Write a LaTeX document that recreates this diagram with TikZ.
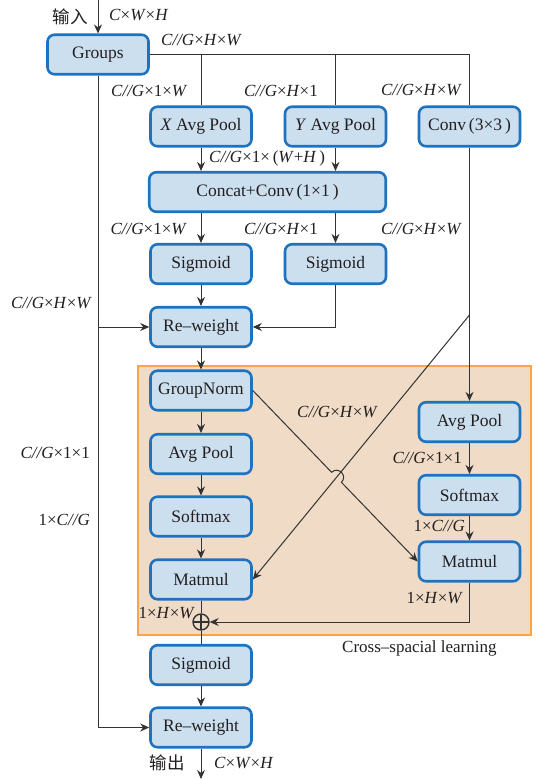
\documentclass[tikz,border=0pt]{standalone}
\usepackage{fontspec}
\setmainfont{Liberation Serif}
\newfontfamily\cjkfont{Noto Sans CJK SC}
\usetikzlibrary{arrows.meta,calc}
\definecolor{nfill}{HTML}{CCDFEF}
\definecolor{nborder}{HTML}{1F72BD}
\definecolor{ofill}{HTML}{EFDBC6}
\definecolor{oborder}{HTML}{F6A54C}
\definecolor{lc}{HTML}{333333}
\definecolor{tc}{HTML}{231F20}
\newcommand\myit[1]{\textit{#1}}
\begin{document}
\begin{tikzpicture}[x=1pt, y=-1pt, font=\fontsize{17}{20}\selectfont, text=tc,
  box/.style={draw=nborder, fill=nfill, line width=2.6pt, rounded corners=7pt,
    minimum width=101pt, minimum height=39.5pt, inner sep=0pt, font=\fontsize{17.5}{20}\selectfont},
  conn/.style={draw=lc, line width=1pt},
  arr/.style={conn, -{Stealth[length=9pt,width=8pt]}},
  lab/.style={inner sep=0pt},
  cjk/.style={inner sep=0pt, font=\cjkfont\fontsize{17.5}{20}\selectfont}]
\useasboundingbox (0,0) rectangle (543,779);
\fill[white] (0,0) rectangle (543,779);
% cross-spacial learning region
\draw[fill=ofill, draw=oborder, line width=1.2pt] (138,366) rectangle (531,635);

% nodes
\node[box] (groups) at (98,54.5) {Groups};
\node[box] (xavg) at (201,126.5) {\myit{X} Avg Pool};
\node[box] (yavg) at (335.5,126.5) {\myit{Y} Avg Pool};
\node[box] (conv) at (469.5,126.5) {Conv\,(3×3\,)};
\node[box, minimum width=236.5pt] (concat) at (267.5,192) {Concat+Conv\,(1×1\,)};
\node[box] (sigL) at (201,264) {Sigmoid};
\node[box] (sigR) at (335.5,264) {Sigmoid};
\node[box] (rw1) at (201,327) {Re–weight};
\node[box] (gn) at (201,390.5) {GroupNorm};
\node[box] (apL) at (201,454) {Avg Pool};
\node[box] (smL) at (201,516.5) {Softmax};
\node[box] (mmL) at (201,579.5) {Matmul};
\node[box] (apR) at (469.5,422) {Avg Pool};
\node[box] (smR) at (469.5,495) {Softmax};
\node[box] (mmR) at (469.5,561.5) {Matmul};
\node[circle, draw=lc, line width=1.4pt, minimum size=16pt, inner sep=0pt,
  path picture={\draw[lc, line width=1.4pt] (path picture bounding box.north) -- (path picture bounding box.south)
    (path picture bounding box.west) -- (path picture bounding box.east);}] (oplus) at (201,622) {};
\node[box] (sigB) at (201,665) {Sigmoid};
\node[box] (rw2) at (201,727.5) {Re–weight};

% connectors
\coordinate (in) at (98,0);
\coordinate (out) at (201,779);
\draw[arr] (in) -- (groups.north);
\draw[conn] (groups.east) -| (conv.north);
\draw[conn] (groups.east -| xavg.north) -- (xavg.north);
\draw[conn] (groups.east -| yavg.north) -- (yavg.north);
\draw[arr] (xavg.south) -- (xavg.south |- concat.north);
\draw[arr] (yavg.south) -- (yavg.south |- concat.north);
\draw[arr] (concat.south -| sigL.north) -- (sigL.north);
\draw[arr] (concat.south -| sigR.north) -- (sigR.north);
\draw[arr] (sigL) -- (rw1);
\draw[arr] (sigR.south) |- (rw1.east);
\draw[arr] (groups.south) |- (rw2.west);
\draw[arr] (groups.south |- rw1.west) -- (rw1.west);
\draw[arr] (rw1) -- (gn);
\draw[arr] (conv.south) -- (apR.north);
\coordinate (dstart) at (469.5,315);
\draw[arr] (dstart) -- (mmL.east);
\coordinate (h1) at (331.6,472.3);
\coordinate (h1c) at (338.3,465.8);
\coordinate (h2c) at (348.1,475.8);
\coordinate (h2) at (341.4,482.3);
\draw[arr] (gn.east) -- (h1) .. controls (h1c) and (h2c) .. (h2) -- (mmR.west);
\draw[arr] (apR) -- (smR);
\draw[arr] (smR) -- (mmR);
\draw[arr] (mmR.south) |- (oplus.east);
\draw[arr] (gn) -- (apL);
\draw[arr] (apL) -- (smL);
\draw[arr] (smL) -- (mmL);
\draw[conn] (mmL) -- (oplus);
\draw[conn] (oplus) -- (sigB);
\draw[arr] (sigB) -- (rw2);
\draw[arr] (rw2) -- (out);

% labels
\node[cjk, anchor=east] (tin) at (88,17) {输入};
\node[lab, anchor=west] (t1) at (109,15) {\myit{C}×\myit{W}×\myit{H}};
\node[lab, anchor=west] (t2) at (161,40) {\myit{C//G}×\myit{H}×\myit{W}};
\node[lab, anchor=west] (t3) at (111,91) {\myit{C//G}×1×\myit{W}};
\node[lab, anchor=east] (t4) at (318,91) {\myit{C//G}×\myit{H}×1};
\node[lab, anchor=east] (t5) at (462,90) {\myit{C//G}×\myit{H}×\myit{W}};
\node[lab, anchor=west] (t6) at (209,158) {\myit{C//G}×1×\,(\myit{W}+\myit{H}\,)};
\node[lab, anchor=east] (t7) at (187,229) {\myit{C//G}×1×\myit{W}};
\node[lab, anchor=east] (t8) at (318,229) {\myit{C//G}×\myit{H}×1};
\node[lab, anchor=east] (t9) at (462,229) {\myit{C//G}×\myit{H}×\myit{W}};
\node[lab, anchor=east] (t10) at (92,303) {\myit{C//G}×\myit{H}×\myit{W}};
\node[lab, anchor=east] (t11) at (90,453) {\myit{C//G}×1×1};
\node[lab, anchor=east] (t12) at (90,520) {1×\myit{C//G}};
\node[lab, anchor=west] (t13) at (297,412) {\myit{C//G}×\myit{H}×\myit{W}};
\node[lab, anchor=east] (t14) at (462,458) {\myit{C//G}×1×1};
\node[lab, anchor=east] (t15) at (465,526) {1×\myit{C//G}};
\node[lab, anchor=east] (t16) at (463,598) {1×\myit{H}×\myit{W}};
\node[lab, anchor=east] (t17) at (195,613) {1×\myit{H}×\myit{W}};
\node[cjk, anchor=east] (tout) at (185,763) {输出};
\node[lab, anchor=west] (t18) at (214,763) {\myit{C}×\myit{W}×\myit{H}};
\node[lab, anchor=west] (t19) at (342,648) {Cross–spacial learning};
\end{tikzpicture}
\end{document}
